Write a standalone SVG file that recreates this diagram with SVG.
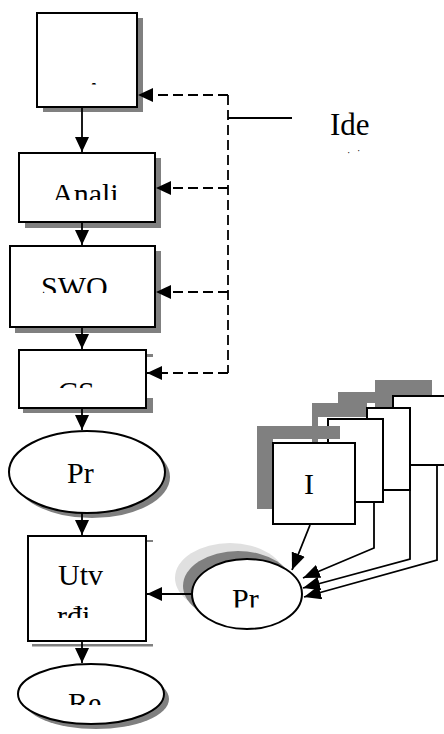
<svg xmlns="http://www.w3.org/2000/svg" width="444" height="734" viewBox="0 0 444 734">
<style>
.box{fill:#fff;stroke:#000;stroke-width:2}
.sh{fill:#808080}
.lsh{fill:#e0e0e0}
.t{font-family:"Liberation Serif","Times New Roman","DejaVu Serif",serif;font-size:30px;fill:#000}
.c{fill:none;stroke:#000;stroke-width:1.8}
.d{stroke-dasharray:10,5}
</style>
<defs>
<marker id="ah" markerUnits="userSpaceOnUse" markerWidth="16" markerHeight="14" refX="15" refY="7" orient="auto"><path d="M0,0 L15,7 L0,14 z" fill="#000"/></marker>
<marker id="as" markerUnits="userSpaceOnUse" markerWidth="18" markerHeight="14" refX="17" refY="7" orient="auto"><path d="M0,0 L17,7 L0,14 z" fill="#000"/></marker>
<clipPath id="cp1"><rect x="38" y="14" width="98" height="70.5"/></clipPath>
<clipPath id="cp2"><rect x="20" y="154" width="134" height="46"/></clipPath>
<clipPath id="cp3"><rect x="11" y="247" width="143" height="46"/></clipPath>
<clipPath id="cp4"><rect x="20" y="351" width="126" height="37"/></clipPath>
<clipPath id="cp5"><rect x="29" y="537" width="116" height="81"/></clipPath>
<clipPath id="cp6"><rect x="20" y="664" width="140" height="41"/></clipPath>
<clipPath id="cp7"><rect x="195" y="560" width="100" height="47.5"/></clipPath>
</defs>
<rect width="444" height="734" fill="#fff"/>

<g id="node-box1">
<rect class="sh" x="43" y="18" width="100" height="94"/>
<rect class="box" x="37" y="13" width="100" height="94"/>
<text class="t" x="94" y="102" text-anchor="middle" clip-path="url(#cp1)">A</text>
</g>
<g id="node-anali">
<rect class="sh" x="25" y="158" width="136" height="70"/>
<rect class="box" x="19" y="153" width="136" height="69"/>
<text class="t" x="52" y="204" clip-path="url(#cp2)">Anali</text>
</g>
<g id="node-swo">
<rect class="sh" x="15" y="251" width="146" height="82"/>
<rect class="box" x="10" y="246" width="145" height="81"/>
<text class="t" x="41" y="297" clip-path="url(#cp3)">SWO</text>
</g>
<g id="node-cs">
<rect class="sh" x="23" y="408" width="130" height="5"/>
<rect class="sh" x="147" y="398" width="6" height="15"/>
<rect class="sh" x="147" y="354" width="6" height="3"/>
<rect class="box" x="19" y="350" width="127" height="58"/>
<text class="t" x="58" y="402" clip-path="url(#cp4)">CS</text>
</g>
<g id="node-pr1">
<ellipse class="sh" cx="92" cy="477" rx="78" ry="41"/>
<ellipse class="box" cx="87" cy="472" rx="78" ry="41"/>
<text class="t" x="67" y="483">Pr</text>
</g>
<g id="node-utv">
<rect class="sh" x="146" y="540" width="7" height="2"/>
<rect class="sh" x="32" y="644" width="121" height="2.5"/>
<rect class="box" x="28" y="536" width="118" height="105"/>
<g clip-path="url(#cp5)">
<text class="t" x="58" y="585">Utv</text>
<text class="t" x="57" y="626">rđi</text>
</g>
</g>
<g id="node-re">
<ellipse class="sh" cx="96" cy="699" rx="73" ry="30"/>
<ellipse class="box" cx="91" cy="694" rx="73" ry="30"/>
<text class="t" x="68" y="713" clip-path="url(#cp6)">Re</text>
</g>
<g id="node-ide">
<text class="t" x="330" y="135" style="font-size:31px">Ide</text>
<text class="t" x="347" y="156" style="font-size:10px">·</text>
<text class="t" x="357" y="154" style="font-size:10px">·</text>
</g>
<g id="node-pr2">
<ellipse class="lsh" cx="230" cy="578" rx="55" ry="35"/>
<ellipse class="sh" cx="238" cy="586" rx="55" ry="35"/>
<ellipse class="box" cx="247" cy="594" rx="55" ry="35"/>
<text class="t" x="232" y="609" clip-path="url(#cp7)">Pr</text>
</g>
<g id="node-stack-back">
<rect class="sh" x="375" y="380" width="57" height="17"/>
<rect class="sh" x="375" y="397" width="17" height="10"/>
<rect class="sh" x="338" y="392" width="37" height="11"/>
<rect class="sh" x="312" y="403" width="55" height="14"/>
<rect class="sh" x="312" y="403" width="6" height="40"/>
<rect class="box" x="393" y="396" width="70" height="69"/>
<rect class="box" x="367" y="408" width="43" height="82"/>
<rect class="box" x="328" y="419" width="55" height="83"/>
</g>
<g id="node-stack-front">
<rect class="sh" x="257" y="426" width="83" height="13"/>
<rect class="sh" x="257" y="426" width="16" height="83"/>
<rect class="box" x="273" y="443" width="82" height="81"/>
<text class="t" x="304" y="494">I</text>
</g>

<g id="connectors">
<path class="c" d="M82,107 V152" marker-end="url(#ah)"/>
<path class="c" d="M82,222 V245" marker-end="url(#ah)"/>
<path class="c" d="M82,327 V349" marker-end="url(#ah)"/>
<path class="c" d="M82,408 V430" marker-end="url(#ah)"/>
<path class="c" d="M82,513 V535" marker-end="url(#ah)"/>
<path class="c" d="M82,641 V663" marker-end="url(#ah)"/>
<path class="c" d="M192,594 H147" marker-end="url(#ah)"/>
<path class="c d" d="M228,95 V373"/>
<path class="c d" d="M228,95 H138" marker-end="url(#ah)"/>
<path class="c d" d="M228,188 H156" marker-end="url(#ah)"/>
<path class="c d" d="M228,292 H156" marker-end="url(#ah)"/>
<path class="c d" d="M228,373 H147" marker-end="url(#ah)"/>
<path class="c" d="M228,118 H292"/>
<path class="c" d="M310,525 L292,570" marker-end="url(#as)"/>
<path class="c" d="M374,502 V548 L303,578" marker-end="url(#as)"/>
<path class="c" d="M410,490 V559 L303,588" marker-end="url(#as)"/>
<path class="c" d="M437,465 V560 L304,597" marker-end="url(#as)"/>
</g>
</svg>
